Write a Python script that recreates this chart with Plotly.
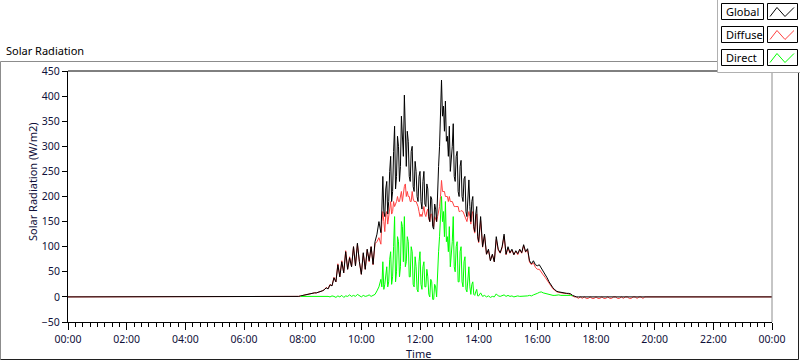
import datetime as dt
import plotly.graph_objects as go

# ---------------- data (W/m2) ----------------
# daytime is sampled in three blocks: 07:40-10:36 (4 min), 10:40-13:58 (2 min), 14:00-17:40 (4 min)
BLOCKS = [(460, 4, 45), (640, 2, 100), (840, 4, 56)]  # (start minute, step, count)

global_a = [
    0, 0, 1, 1, 2, 3, 4, 5, 6, 6, 7, 8, 8, 9, 10, 12,
    14, 18, 16, 24, 22, 38, 30, 64, 40, 70, 48, 90, 55, 78, 60,
    100, 62, 107, 70, 45, 88, 55, 95, 72, 100, 65, 110, 125, 150,
]
global_b = [
    128, 175, 240, 170, 160, 215, 230, 165, 190, 250,
    280, 190, 210, 290, 340, 215, 240, 320, 300, 230,
    260, 360, 330, 280, 402, 290, 260, 330, 310, 240,
    230, 290, 300, 220, 210, 270, 250, 200, 190, 240,
    250, 190, 175, 230, 250, 185, 180, 225, 215, 160,
    150, 200, 195, 140, 135, 185, 175, 150, 220, 260,
    300, 350, 432, 360, 380, 330, 390, 310, 320, 280,
    340, 250, 270, 300, 345, 240, 230, 280, 290, 210,
    200, 260, 272, 200, 190, 235, 240, 170, 160, 210,
    233, 180, 150, 190, 200, 140, 130, 165, 180, 120,
]
global_c = [
    110, 160, 100, 125, 85, 95, 72, 85, 70, 120, 95,
    88, 100, 125, 85, 100, 88, 95, 84, 92, 86, 95, 88, 104, 90, 96,
    72, 66, 72, 64, 62, 64, 58, 52, 46, 38, 30, 23, 18, 14, 11,
    10, 9, 8, 8, 7, 7, 6, 3, 1, 0, 0, 0, 0, 0, 0,
]

diffuse_a = [
    0, 0, 1, 1, 2, 3, 4, 5, 6, 6, 7, 8, 8, 9, 10, 12,
    14, 19, 16, 25, 22, 39, 30, 66, 40, 72, 48, 92, 55, 80, 60,
    100, 62, 105, 70, 45, 86, 55, 94, 70, 100, 64, 106, 110, 118,
]
diffuse_b = [
    105, 150, 170, 150, 130, 165, 170, 145, 160, 175,
    190, 165, 170, 190, 180, 185, 190, 200, 190, 190,
    200, 210, 190, 210, 220, 225, 200, 210, 200, 200,
    190, 190, 210, 195, 190, 190, 190, 185, 180, 170,
    160, 165, 160, 170, 180, 165, 160, 170, 175, 155,
    150, 165, 165, 145, 140, 160, 155, 150, 160, 170,
    180, 200, 232, 210, 210, 210, 200, 200, 200, 190,
    200, 190, 190, 190, 185, 180, 180, 180, 180, 180,
    170, 170, 172, 170, 170, 165, 160, 155, 150, 160,
    170, 160, 145, 165, 170, 135, 127, 155, 165, 118,
]
diffuse_c = [
    108, 152, 99, 122, 85, 93, 73, 84, 70, 114, 93,
    87, 98, 121, 84, 97, 87, 93, 84, 91, 84, 94, 87, 102, 89, 94,
    69, 64, 68, 59, 55, 55, 48, 44, 39, 33, 27, 21, 16, 13, 10,
    9, 8, 8, 7, 7, 6, 5, 2, 0, 0, -3, 0, -3, 0, -3,
]
diffuse_evening = [
    -3, 0, -3, -3, 0, -3, -3, 0, -3, -3, 0, -3, -3, 0, 0,
    -3, -3, 0, -3, 0, 0, -3, -3, 0, 0, -3, 0, 0, -3, 0,
]

direct_a = [
    None, None, None, None, 1, 1, 1, 2, 2, 2, 2, 1, 2, 2, 1, 2,
    1, 2, 1, 0, 2, 1, -1, 2, 0, 3, -1, 2, 1, 4, 1,
    3, 1, 5, 2, 0, 3, 1, 2, 4, 1, 3, 5, 12, 20,
]
direct_b = [
    35, 20, 70, 15, 25, 50, 60, 20, 30, 75,
    90, 25, 40, 100, 160, 30, 50, 120, 110, 40,
    60, 150, 140, 70, 160, 60, 70, 120, 110, 40,
    40, 100, 90, 25, 20, 80, 60, 15, 10, 70,
    90, 25, 15, 60, 70, 20, 20, 55, 40, 5,
    0, 35, 30, -5, -5, 25, 20, 0, 60, 90,
    120, 150, 200, 150, 170, 120, 190, 110, 120, 90,
    140, 60, 80, 110, 160, 60, 50, 100, 110, 30,
    30, 90, 100, 30, 20, 70, 80, 15, 10, 50,
    60, 20, 5, 25, 30, 5, 3, 10, 15, 2,
]
direct_c = [
    2, 8, 1, 3, 0, 2, -1, 1, 0, 6, 2,
    1, 2, 4, 1, 3, 1, 2, 0, 1, 2, 1, 1, 2, 1, 2,
    3, 2, 4, 5, 7, 9, 10, 8, 7, 5, 4, 3, 3, 3, 4,
    4, 3, 3, 4, 3, 3, 3, 2, None, None, None, None, None, None, None,
]

x_tick_labels = ["00:00", "02:00", "04:00", "06:00", "08:00", "10:00", "12:00",
                 "14:00", "16:00", "18:00", "20:00", "22:00", "00:00"]
y_ticks = [-50, 0, 50, 100, 150, 200, 250, 300, 350, 400, 450]

# ---------------- assemble full-day series ----------------
base = dt.datetime(2024, 1, 1)


def minutes_to_times(start, step, count):
    return [base + dt.timedelta(minutes=start + step * i) for i in range(count)]


night_am = minutes_to_times(0, 4, 115)          # 00:00 .. 07:36
day_times = []
for start, step, count in BLOCKS:
    day_times += minutes_to_times(start, step, count)
night_pm = minutes_to_times(1064, 4, 95)        # 17:44 .. 24:00
times = night_am + day_times + night_pm

global_all = [0] * len(night_am) + global_a + global_b + global_c + [0] * len(night_pm)
diffuse_all = ([0] * len(night_am) + diffuse_a + diffuse_b + diffuse_c + diffuse_evening
               + [0] * (len(night_pm) - len(diffuse_evening)))
direct_all = [None] * len(night_am) + direct_a + direct_b + direct_c + [None] * len(night_pm)

# ---------------- layout geometry (pixels) ----------------
W, H = 800, 361
PL, PR, PT, PB = 68, 772, 71, 322


def X(px):
    return (px - PL) / (PR - PL)


def Y(py):
    return (PB - py) / (PB - PT)


FONT = "Noto Sans"
TXT = "#10103a"

fig = go.Figure()
fig.add_trace(go.Scatter(x=times, y=diffuse_all, mode="lines", name="Diffuse",
                         line=dict(color="#ff4040", width=1), showlegend=False))
fig.add_trace(go.Scatter(x=times, y=global_all, mode="lines", name="Global",
                         line=dict(color="#000000", width=1), showlegend=False))
fig.add_trace(go.Scatter(x=times, y=direct_all, mode="lines", name="Direct",
                         line=dict(color="#00ff00", width=1), showlegend=False,
                         connectgaps=False))

tickvals = [base + dt.timedelta(hours=2 * i) for i in range(len(x_tick_labels))]

fig.update_layout(
    width=W, height=H,
    margin=dict(l=PL, r=W - PR, t=PT, b=H - PB),
    paper_bgcolor="white", plot_bgcolor="white",
    font=dict(family=FONT, size=10.5, color=TXT),
    xaxis=dict(
        type="date",
        range=[base, base + dt.timedelta(days=1)],
        tickvals=tickvals, ticktext=x_tick_labels,
        ticks="outside", ticklen=7, tickcolor="#000000", tickwidth=1,
        minor=dict(dtick=15 * 60 * 1000, ticks="outside", ticklen=4,
                   tickcolor="#000000", tickwidth=1, showgrid=False),
        showgrid=False, zeroline=False,
        showline=True, linecolor="#000000", linewidth=1,
        tickfont=dict(family=FONT, size=10.5, color=TXT),
    ),
    yaxis=dict(
        range=[-50, 450], tickvals=y_ticks,
        ticks="outside", ticklen=5, tickcolor="#000000", tickwidth=1,
        showgrid=False, zeroline=False,
        showline=True, linecolor="#000000", linewidth=1,
        tickfont=dict(family=FONT, size=10.5, color=TXT),
    ),
)

shapes = []
# outer sunken frame
shapes.append(dict(type="line", xref="paper", yref="paper", x0=X(0.5), x1=X(799), y0=Y(61.5), y1=Y(61.5),
                   line=dict(color="#8c8c8c", width=1), layer="above"))
shapes.append(dict(type="line", xref="paper", yref="paper", x0=X(0.5), x1=X(0.5), y0=Y(61.5), y1=Y(359.5),
                   line=dict(color="#8c8c8c", width=1), layer="above"))
shapes.append(dict(type="line", xref="paper", yref="paper", x0=X(0.5), x1=X(798.5), y0=Y(359.5), y1=Y(359.5),
                   line=dict(color="#202020", width=1), layer="above"))
shapes.append(dict(type="line", xref="paper", yref="paper", x0=X(798.5), x1=X(798.5), y0=Y(61.5), y1=Y(359.5),
                   line=dict(color="#202020", width=1), layer="above"))
# plot area top (black) and right (gray)
shapes.append(dict(type="line", xref="paper", yref="paper", x0=0, x1=1, y0=1, y1=1,
                   line=dict(color="#000000", width=1), layer="above"))
shapes.append(dict(type="line", xref="paper", yref="paper", x0=1, x1=1, y0=0, y1=1,
                   line=dict(color="#8c8c8c", width=1), layer="above"))
# legend panel
shapes.append(dict(type="rect", xref="paper", yref="paper", x0=X(717.5), x1=X(801), y0=Y(-1), y1=Y(72.5),
                   line=dict(width=0), fillcolor="white", layer="above"))
shapes.append(dict(type="line", xref="paper", yref="paper", x0=X(717.5), x1=X(717.5), y0=Y(0), y1=Y(72.5),
                   line=dict(color="#b0b0b0", width=1), layer="above"))
shapes.append(dict(type="line", xref="paper", yref="paper", x0=X(717.5), x1=X(800), y0=Y(72.5), y1=Y(72.5),
                   line=dict(color="#b0b0b0", width=1), layer="above"))

legend_items = [("Global", "#000000"), ("Diffuse", "#ff4040"), ("Direct", "#00ff00")]
annotations = []
for k, (name, col) in enumerate(legend_items):
    top = 3.5 + 23 * k
    bot = top + 16
    shapes.append(dict(type="rect", xref="paper", yref="paper", x0=X(721.5), x1=X(763.5), y0=Y(bot), y1=Y(top),
                       line=dict(color="#000000", width=1), fillcolor="white", layer="above"))
    shapes.append(dict(type="rect", xref="paper", yref="paper", x0=X(767.5), x1=X(797.5), y0=Y(bot), y1=Y(top),
                       line=dict(color="#000000", width=1), fillcolor="white", layer="above"))
    pts = [(770, bot - 3), (777, top + 4), (785, bot - 3), (794, top + 4)]
    path = "M " + " L ".join(f"{X(px):.5f},{Y(py):.5f}" for px, py in pts)
    shapes.append(dict(type="path", xref="paper", yref="paper", path=path,
                       line=dict(color=col, width=1), layer="above"))
    annotations.append(dict(text=name, xref="paper", yref="paper", x=X(723.5), y=Y((top + bot) / 2),
                            xanchor="left", yanchor="middle", showarrow=False,
                            font=dict(family=FONT, size=11, color="#000000")))

annotations.append(dict(text="Solar Radiation", xref="paper", yref="paper", x=X(4), y=Y(50),
                        xanchor="left", yanchor="middle", showarrow=False,
                        font=dict(family=FONT, size=11, color="#000000")))
annotations.append(dict(text="Solar Radiation (W/m2)", xref="paper", yref="paper", x=X(32), y=Y(182),
                        xanchor="center", yanchor="middle", textangle=-90, showarrow=False,
                        font=dict(family=FONT, size=11, color=TXT)))
annotations.append(dict(text="Time", xref="paper", yref="paper", x=X(418), y=Y(353),
                        xanchor="center", yanchor="middle", showarrow=False,
                        font=dict(family=FONT, size=11, color=TXT)))

fig.update_layout(shapes=shapes, annotations=annotations)
fig.write_html("out.html", config={"displayModeBar": False},
               post_script="document.body.style.margin='0';document.body.style.padding='0';")
